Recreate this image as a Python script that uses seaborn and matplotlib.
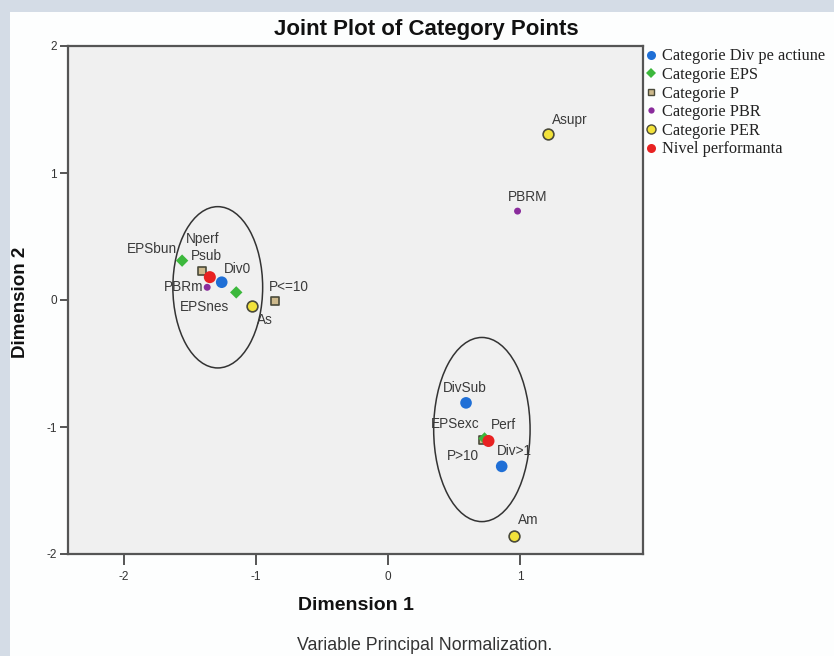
import matplotlib
matplotlib.use("Agg")
import matplotlib.pyplot as plt
from matplotlib.patches import Ellipse, Rectangle
from matplotlib.lines import Line2D
import seaborn as sns
import pandas as pd

# Category points (object scores on the two dimensions)
labels = ["Div0", "DivSub", "Div>1",
          "EPSbun", "EPSnes", "EPSexc",
          "Psub", "P<=10", "P>10",
          "PBRm", "PBRM",
          "Asupr", "As", "Am",
          "Nperf", "Perf"]
dim1 = [-1.26, 0.59, 0.86,
        -1.56, -1.15, 0.73,
        -1.41, -0.86, 0.72,
        -1.37, 0.98,
        1.21, -1.03, 0.95,
        -1.35, 0.76]
dim2 = [0.14, -0.81, -1.31,
        0.31, 0.06, -1.09,
        0.23, -0.01, -1.10,
        0.10, 0.70,
        1.31, -0.05, -1.86,
        0.18, -1.11]
groups = ["Categorie Div pe actiune"] * 3 + ["Categorie EPS"] * 3 + \
         ["Categorie P"] * 3 + ["Categorie PBR"] * 2 + \
         ["Categorie PER"] * 3 + ["Nivel performanta"] * 2
group_order = ["Categorie Div pe actiune", "Categorie EPS", "Categorie P",
               "Categorie PBR", "Categorie PER", "Nivel performanta"]

# Cluster ellipses: centre x, centre y, width, height (data units)
ell_cx = [-1.29, 0.71]
ell_cy = [0.10, -1.02]
ell_w = [0.68, 0.73]
ell_h = [1.27, 1.45]

df = pd.DataFrame({"label": labels, "Dimension 1": dim1,
                   "Dimension 2": dim2, "group": groups})

# marker style per group
styles = {
    "Categorie Div pe actiune": dict(marker="o", color="#1f6fd6", s=70, edgecolor="none"),
    "Categorie EPS": dict(marker="D", color="#3cb83c", s=40, edgecolor="none"),
    "Categorie P": dict(marker="s", color="#cdb98c", s=32, edgecolor="#4a4a3a", linewidth=1.2),
    "Categorie PBR": dict(marker="o", color="#8a2c9c", s=25, edgecolor="none"),
    "Categorie PER": dict(marker="o", color="#f2e23a", s=60, edgecolor="#4a4a3a", linewidth=1.2),
    "Nivel performanta": dict(marker="o", color="#e82222", s=75, edgecolor="none"),
}
draw_order = ["Categorie PER", "Categorie PBR", "Categorie P", "Categorie EPS",
              "Nivel performanta", "Categorie Div pe actiune"]

# label offsets in pixels (dx, dy) from each point
offsets = {
    "Div0": (16, 13), "DivSub": (-1, 15), "Div>1": (13, 15),
    "EPSbun": (-30, 12), "EPSnes": (-32, -15), "EPSexc": (-29, 14),
    "Psub": (5, 15), "P<=10": (14, 14), "P>10": (-20, -16),
    "PBRm": (-24, 0), "PBRM": (10, 14),
    "Asupr": (22, 14), "As": (13, -14), "Am": (15, 16),
    "Nperf": (-7, 38), "Perf": (15, 16),
}

sns.set_theme(style="white")
plt.rcParams["font.family"] = ["Liberation Sans", "DejaVu Sans"]

fig = plt.figure(figsize=(8.34, 6.56), dpi=100)
fig.patch.set_facecolor("#fdfefe")
# window-like frame band on the top and left
fig.add_artist(Rectangle((0, 1 - 12 / 656), 1, 12 / 656, transform=fig.transFigure,
                         facecolor="#d4dce6", edgecolor="none", zorder=0))
fig.add_artist(Rectangle((0, 0), 10 / 834, 1, transform=fig.transFigure,
                         facecolor="#d4dce6", edgecolor="none", zorder=0))

ax = fig.add_axes([68 / 834, 1 - 554 / 656, 575 / 834, 508 / 656])
ax.set_facecolor("#f0f0f0")

for g in draw_order:
    sub = df[df["group"] == g]
    st = dict(styles[g])
    color = st.pop("color")
    sns.scatterplot(data=sub, x="Dimension 1", y="Dimension 2", color=color,
                    ax=ax, legend=False, zorder=3, **st)

for lab, x, y in zip(labels, dim1, dim2):
    dx, dy = offsets[lab]
    ax.annotate(lab, (x, y), xytext=(dx, dy), textcoords="offset pixels",
                ha="center", va="center", fontsize=9.8, color="#3a3a3a", zorder=4)

for cx, cy, w, h in zip(ell_cx, ell_cy, ell_w, ell_h):
    ax.add_patch(Ellipse((cx, cy), w, h, facecolor="none", edgecolor="#333333",
                         linewidth=1.1, zorder=2))

ax.set_xlim(-2.424, 1.93)
ax.set_ylim(-2, 2)
ax.set_xticks([-2, -1, 0, 1])
ax.set_yticks([-2, -1, 0, 1, 2])
ax.set_xticklabels(["-2", "-1", "0", "1"])
ax.set_yticklabels(["-2", "-1", "0", "1", "2"])
ax.tick_params(axis="x", direction="out", length=8, width=1.4, color="#555555",
               labelsize=8.5, labelcolor="#333333", pad=4, bottom=True)
ax.tick_params(axis="y", direction="out", length=6, width=1.4, color="#555555",
               labelsize=8.5, labelcolor="#333333", pad=2, left=True)
for sp in ax.spines.values():
    sp.set_color("#555555")
    sp.set_linewidth(1.6)

ax.set_xlabel("")
ax.set_ylabel("")
fig.text(426 / 834, 1 - 29 / 656, "Joint Plot of Category Points", ha="center",
         va="center", fontsize=16, fontweight="bold", color="#111111")
fig.text(356 / 834, 1 - 605 / 656, "Dimension 1", ha="center", va="center",
         fontsize=14, fontweight="bold", color="#111111")
fig.text(21 / 834, 1 - 302 / 656, "Dimension 2", ha="center", va="center",
         rotation=90, fontsize=13.5, fontweight="bold", color="#111111")
fig.text(425 / 834, 1 - 645 / 656, "Variable Principal Normalization.", ha="center",
         va="center", fontsize=12.8, color="#333333")

# legend outside the plot area
handles = []
for g in group_order:
    st = styles[g]
    edge = st.get("edgecolor", "none")
    has_edge = edge not in (None, "none")
    size = 4.5 if g == "Categorie PBR" else {"o": 6.5, "D": 5, "s": 5}[st["marker"]]
    handles.append(Line2D([], [], linestyle="none", marker=st["marker"],
                          markerfacecolor=st["color"],
                          markeredgecolor=edge if has_edge else st["color"],
                          markeredgewidth=1.0 if has_edge else 0,
                          markersize=size))
leg = fig.legend(handles, group_order, loc="upper left",
                 bbox_to_anchor=(641 / 834, 1 - 45 / 656), frameon=False,
                 prop={"family": "Liberation Serif", "size": 11.8},
                 handlelength=0.8, handletextpad=0.3, labelspacing=0.16,
                 borderaxespad=0, borderpad=0.2)
for t in leg.get_texts():
    t.set_color("#222222")

fig.savefig("out.png", dpi=100, facecolor=fig.get_facecolor())
